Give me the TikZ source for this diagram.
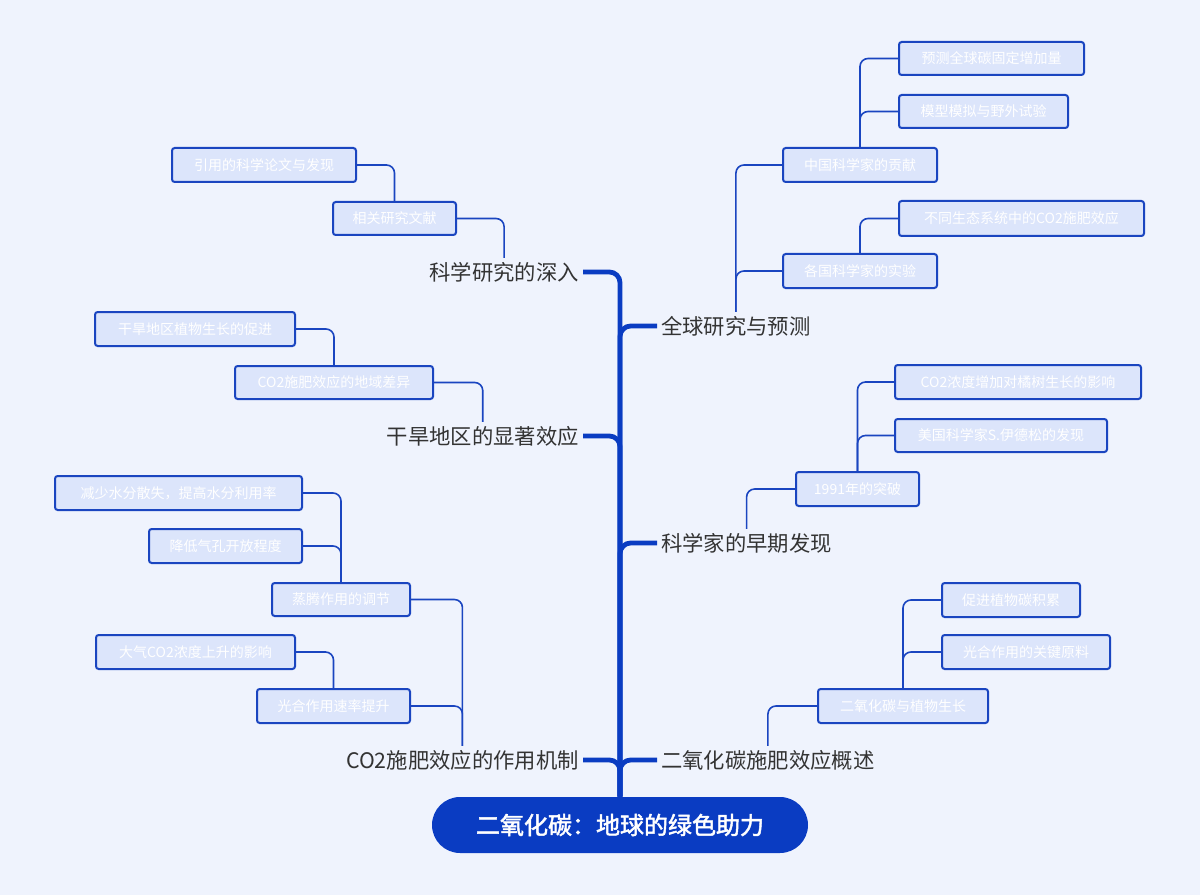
\documentclass[tikz,border=0pt]{standalone}
\usepackage{fontspec}
\setmainfont{Noto Sans CJK SC}
\newfontfamily\cjkb[FakeBold=2]{Noto Sans CJK SC}
\definecolor{bg}{HTML}{EFF3FD}
\definecolor{bfill}{HTML}{DCE5FB}
\definecolor{bdr}{HTML}{1A45C0}
\definecolor{dk}{HTML}{0A3CC2}
\tikzset{
 bx/.style={draw=bdr,line width=1.5pt,fill=bfill,rounded corners=2pt,text=white,font=\fontsize{10.5}{12}\selectfont,inner sep=0pt},
 lab/.style={text=black!80,font=\fontsize{16}{18}\selectfont,inner sep=3pt},
 ln/.style={draw=bdr,line width=1.2pt,rounded corners=6pt},
 tk/.style={draw=dk,line width=3.6pt,rounded corners=8pt}
}
\newcommand\bx[6]{\pgfmathsetmacro\bw{(#4-#2)*0.75}\pgfmathsetmacro\bh{(#5-#3)*0.75}\node[bx,minimum width=\bw pt,minimum height=\bh pt] (#1) at ({(#2+#4)/2},{(#3+#5)/2}) {#6};}
\begin{document}
\begin{tikzpicture}[x=0.75pt,y=-0.75pt]
\fill[bg] (0,0) rectangle (1200,895);
\useasboundingbox (0,0) rectangle (1200,895);
\node[fill=dk,rounded corners=21pt,minimum width=282pt,minimum height=42pt,text=white,font=\cjkb\fontsize{18}{20}\selectfont] (root) at (620,825) {二氧化碳：地球的绿色助力};
% labels
\node[lab,anchor=east] (kx) at (583,272) {科学研究的深入};
\node[lab,anchor=east] (gh) at (583,436) {干旱地区的显著效应};
\node[lab,anchor=east] (jz) at (583,760) {CO2施肥效应的作用机制};
\node[lab,anchor=west] (qq) at (657,326) {全球研究与预测};
\node[lab,anchor=west] (zq) at (657,543) {科学家的早期发现};
\node[lab,anchor=west] (gs) at (657,760) {二氧化碳施肥效应概述};
\foreach \n in {kx,gh,jz} \draw[tk] (\n.east) -| (root.north);
\foreach \n in {qq,zq,gs} \draw[tk] (\n.west) -| (root.north);
% boxes
\bx{yy}{172}{148}{356}{182}{引用的科学论文与发现}
\bx{xg}{333}{202}{456}{235}{相关研究文献}
\bx{ycz}{899}{42}{1084}{75}{预测全球碳固定增加量}
\bx{mx}{899}{95}{1068}{128}{模型模拟与野外试验}
\bx{zg}{783}{148}{937}{182}{中国科学家的贡献}
\bx{bt}{899}{201}{1144}{236}{不同生态系统中的CO2施肥效应}
\bx{gg}{783}{254}{937}{288}{各国科学家的实验}
\bx{ghz}{95}{312}{295}{346}{干旱地区植物生长的促进}
\bx{dy}{235}{366}{433}{399}{CO2施肥效应的地域差异}
\bx{jz1}{895}{365}{1141}{399}{CO2浓度增加对橘树生长的影响}
\bx{mg}{895}{419}{1107}{452}{美国科学家S.伊德松的发现}
\bx{tp}{796}{472}{919}{506}{1991年的突破}
\bx{js}{55}{476}{302}{510}{减少水分散失，提高水分利用率}
\bx{jd}{149}{529}{302}{563}{降低气孔开放程度}
\bx{zt}{272}{583}{410}{616}{蒸腾作用的调节}
\bx{cj}{942}{583}{1080}{617}{促进植物碳积累}
\bx{gj}{942}{635}{1110}{669}{光合作用的关键原料}
\bx{dq}{96}{635}{295}{669}{大气CO2浓度上升的影响}
\bx{gl}{257}{689}{410}{723}{光合作用速率提升}
\bx{ew}{818}{689}{988}{723}{二氧化碳与植物生长}
% connectors
\draw[ln] (yy.east) -| (xg.north);
\draw[ln] (xg.east) -| (kx.north);
\draw[ln] (ycz.west) -| (zg.north);
\draw[ln] (mx.west) -| (zg.north);
\draw[ln] (bt.west) -| (gg.north);
\draw[ln] (zg.west) -| (qq.north);
\draw[ln] (gg.west) -| (qq.north);
\draw[ln] (ghz.east) -| (dy.north);
\draw[ln] (dy.east) -| (gh.north);
\draw[ln] (jz1.west) -| (tp.north);
\draw[ln] (mg.west) -| (tp.north);
\draw[ln] (tp.west) -| (zq.north);
\draw[ln] (js.east) -| (zt.north);
\draw[ln] (jd.east) -| (zt.north);
\draw[ln] (zt.east) -| (jz.north);
\draw[ln] (gl.east) -| (jz.north);
\draw[ln] (dq.east) -| (gl.north);
\draw[ln] (cj.west) -| (ew.north);
\draw[ln] (gj.west) -| (ew.north);
\draw[ln] (ew.west) -| (gs.north);
\end{tikzpicture}
\end{document}
